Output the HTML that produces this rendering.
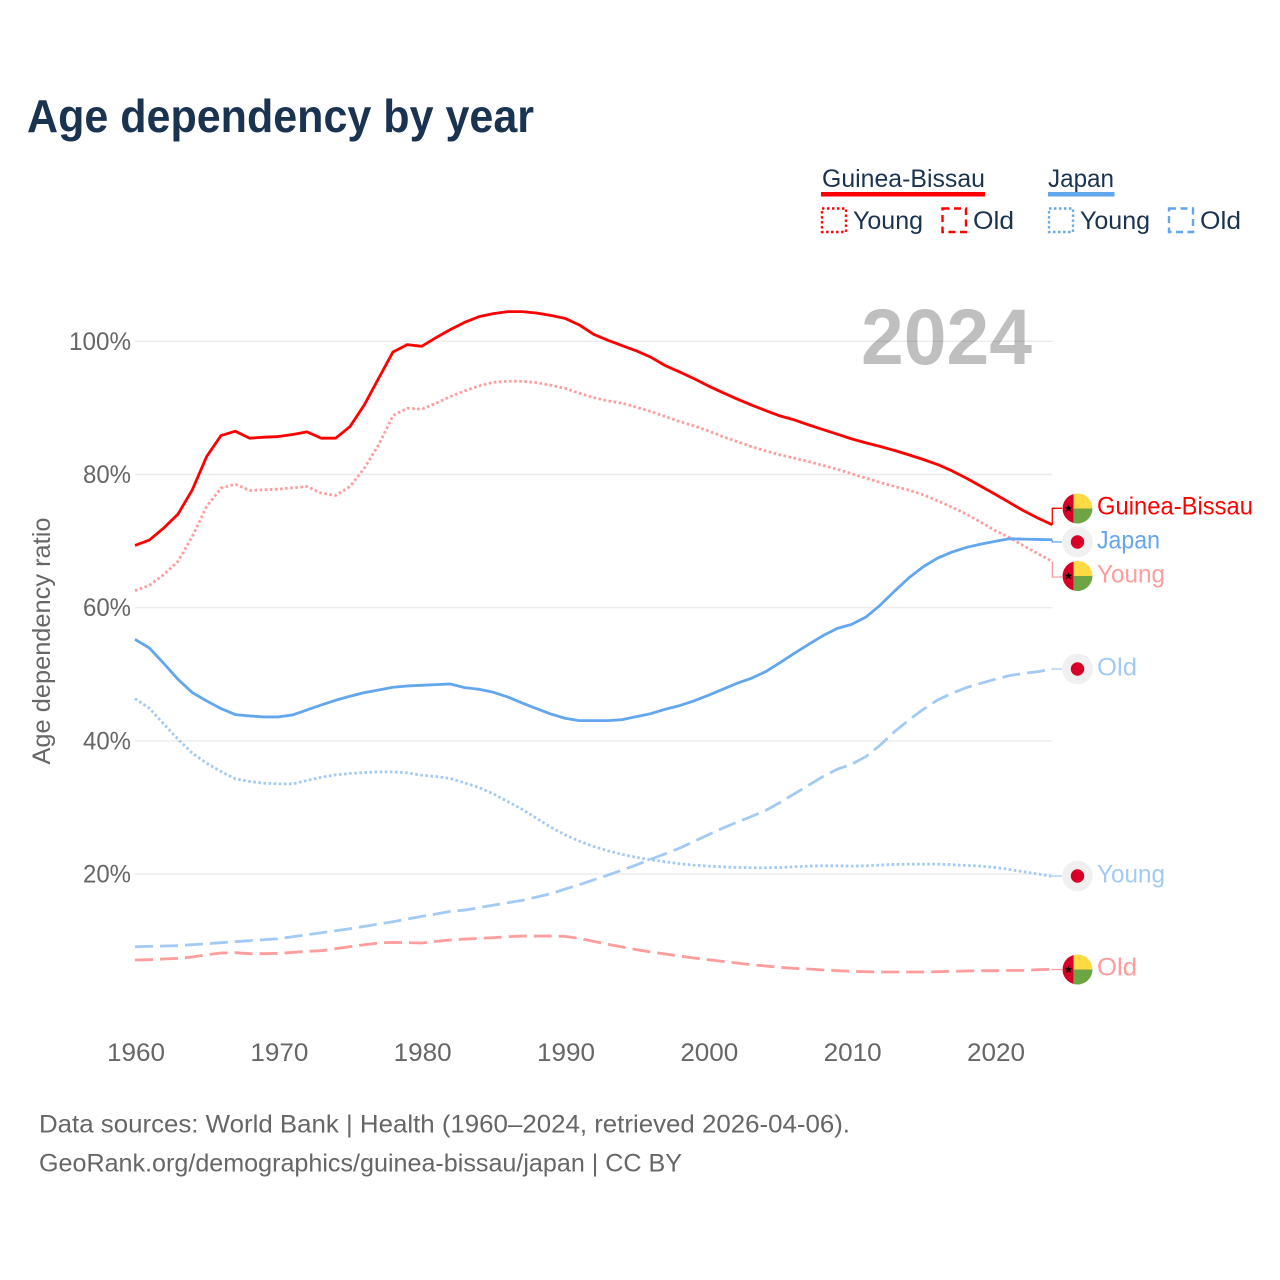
<!DOCTYPE html>
<html lang="en">
<head>
<meta charset="utf-8">
<title>Age dependency by year</title>
<style>
html,body{margin:0;padding:0;background:#fff;}
svg{display:block;font-family:"Liberation Sans",sans-serif;}
.leg{font-size:25px;fill:#1a3350;}
.lab{font-size:25px;}
.src{font-size:25px;fill:#666;}
</style>
</head>
<body>
<svg id="chart" xmlns="http://www.w3.org/2000/svg" width="1280" height="1280" viewBox="0 0 1280 1280">
  <rect x="0" y="0" width="1280" height="1280" fill="#fff"/>
  <text x="27" y="132" font-size="46" font-weight="700" fill="#1a3350" textLength="507" lengthAdjust="spacingAndGlyphs">Age dependency by year</text>

  <g>
    <text class="leg" x="822" y="187" textLength="163" lengthAdjust="spacingAndGlyphs">Guinea-Bissau</text>
    <rect x="821" y="192" width="164" height="4.5" fill="#ff0000"/>
    <text class="leg" x="1048" y="187" textLength="66" lengthAdjust="spacingAndGlyphs">Japan</text>
    <rect x="1048" y="192" width="66.5" height="4.5" fill="#62a6ee"/>

    <rect x="822" y="208.500" width="24" height="23.500" fill="none" stroke="#ff0000" stroke-width="2.4" stroke-dasharray="2.4 2.6"/>
    <text class="leg" x="853" y="229" textLength="70" lengthAdjust="spacingAndGlyphs">Young</text>
    <rect x="942.500" y="208.500" width="23.500" height="23.500" fill="none" stroke="#ff0000" stroke-width="2.4" stroke-dasharray="7 4.500"/>
    <text class="leg" x="973" y="229" textLength="41" lengthAdjust="spacingAndGlyphs">Old</text>

    <rect x="1049" y="208.500" width="24" height="23.500" fill="none" stroke="#62a6ee" stroke-width="2.4" stroke-dasharray="2.4 2.6"/>
    <text class="leg" x="1080" y="229" textLength="70" lengthAdjust="spacingAndGlyphs">Young</text>
    <rect x="1169" y="208.500" width="24" height="23.500" fill="none" stroke="#62a6ee" stroke-width="2.4" stroke-dasharray="7 4.500"/>
    <text class="leg" x="1200" y="229" textLength="41" lengthAdjust="spacingAndGlyphs">Old</text>
  </g>

  <g id="grid"></g>
  <g id="yticks"></g>
  <g id="xticks"></g>
  <text transform="translate(50 641) rotate(-90)" text-anchor="middle" font-size="25" fill="#666" textLength="247" lengthAdjust="spacingAndGlyphs">Age dependency ratio</text>

  <g id="series"></g>

  <text x="861" y="364" font-size="79" font-weight="700" fill="#000" fill-opacity="0.25" textLength="171" lengthAdjust="spacingAndGlyphs">2024</text>

  <g transform="translate(1077.5 508.5)">
    <path d="M-3.8 -14.5A15 15 0 0 0 -3.8 14.5Z" fill="#d80027"/>
    <path d="M-3.8 -14.5A15 15 0 0 1 15 0H-3.8Z" fill="#ffda44"/>
    <path d="M-3.8 14.5A15 15 0 0 0 15 0H-3.8Z" fill="#6da544"/>
    <polygon points="-9,-3.800 -7.900,-1.200 -5.200,-1.200 -7.300,0.500 -6.600,3.200 -9,1.700 -11.400,3.200 -10.700,0.500 -12.800,-1.200 -10.100,-1.200" fill="#000"/>
  </g>
  <g transform="translate(1077.5 542)">
    <circle r="15.300" fill="#f0f0f0"/><circle r="6.700" fill="#d80027"/>
  </g>
  <g transform="translate(1077.5 576)">
    <path d="M-3.8 -14.5A15 15 0 0 0 -3.8 14.5Z" fill="#d80027"/>
    <path d="M-3.8 -14.5A15 15 0 0 1 15 0H-3.8Z" fill="#ffda44"/>
    <path d="M-3.8 14.5A15 15 0 0 0 15 0H-3.8Z" fill="#6da544"/>
    <polygon points="-9,-3.800 -7.900,-1.200 -5.200,-1.200 -7.300,0.500 -6.600,3.200 -9,1.700 -11.400,3.200 -10.700,0.500 -12.800,-1.200 -10.100,-1.200" fill="#000"/>
  </g>
  <g transform="translate(1077.5 669)">
    <circle r="15.300" fill="#f0f0f0"/><circle r="6.700" fill="#d80027"/>
  </g>
  <g transform="translate(1077.5 876)">
    <circle r="15.300" fill="#f0f0f0"/><circle r="6.700" fill="#d80027"/>
  </g>
  <g transform="translate(1077.5 969.5)">
    <path d="M-3.8 -14.5A15 15 0 0 0 -3.8 14.5Z" fill="#d80027"/>
    <path d="M-3.8 -14.5A15 15 0 0 1 15 0H-3.8Z" fill="#ffda44"/>
    <path d="M-3.8 14.5A15 15 0 0 0 15 0H-3.8Z" fill="#6da544"/>
    <polygon points="-9,-3.800 -7.900,-1.200 -5.200,-1.200 -7.300,0.500 -6.600,3.200 -9,1.700 -11.400,3.200 -10.700,0.500 -12.800,-1.200 -10.100,-1.200" fill="#000"/>
  </g>

  <text class="lab" x="1097" y="514.700" fill="#ff0000" textLength="156" lengthAdjust="spacingAndGlyphs">Guinea-Bissau</text>
  <text class="lab" x="1097" y="548.500" fill="#62a6ee" textLength="63" lengthAdjust="spacingAndGlyphs">Japan</text>
  <text class="lab" x="1097" y="582.500" fill="#ff9c9c" textLength="68" lengthAdjust="spacingAndGlyphs">Young</text>
  <text class="lab" x="1097" y="675.500" fill="#a3caf5" textLength="40" lengthAdjust="spacingAndGlyphs">Old</text>
  <text class="lab" x="1097" y="882.500" fill="#a3caf5" textLength="68" lengthAdjust="spacingAndGlyphs">Young</text>
  <text class="lab" x="1097" y="975.500" fill="#ff9c9c" textLength="40" lengthAdjust="spacingAndGlyphs">Old</text>

  <text class="src" x="39" y="1132.500" textLength="811" lengthAdjust="spacingAndGlyphs">Data sources: World Bank | Health (1960–2024, retrieved 2026-04-06).</text>
  <text class="src" x="39" y="1171.500" textLength="643" lengthAdjust="spacingAndGlyphs">GeoRank.org/demographics/guinea-bissau/japan | CC BY</text>
</svg>

<script>
const startYear = 1960;
const xTickYears = [1960, 1970, 1980, 1990, 2000, 2010, 2020];
const yTickValues = [20, 40, 60, 80, 100];

const guineaBissauTotal = [69.35,70.15,71.95,74.05,77.7,82.7,85.85,86.5,85.45,85.6,85.7,86.0,86.4,85.45,85.45,87.2,90.45,94.45,98.4,99.5,99.25,100.55,101.75,102.85,103.7,104.15,104.45,104.45,104.25,103.9,103.45,102.45,101.05,100.15,99.35,98.55,97.6,96.35,95.4,94.4,93.3,92.3,91.35,90.45,89.6,88.8,88.2,87.45,86.75,86.05,85.35,84.75,84.2,83.6,82.95,82.25,81.5,80.55,79.45,78.25,77.05,75.8,74.55,73.45,72.45];
const guineaBissauYoung = [62.55,63.35,64.95,66.95,70.7,75.2,77.95,78.55,77.6,77.7,77.8,78,78.2,77.2,76.85,78.2,80.95,84.45,88.85,89.95,89.8,90.7,91.7,92.55,93.3,93.85,94,94,93.8,93.4,92.95,92.2,91.55,91.05,90.7,90.1,89.45,88.7,87.95,87.3,86.55,85.7,84.95,84.2,83.55,82.95,82.45,81.95,81.35,80.8,80.1,79.45,78.8,78.2,77.65,76.95,76.05,75.1,74.05,72.85,71.6,70.55,69.3,68.1,66.95];
const guineaBissauOld = [7.1,7.15,7.25,7.35,7.55,7.9,8.15,8.2,8.05,8.05,8.1,8.25,8.4,8.5,8.8,9.1,9.4,9.65,9.75,9.7,9.65,9.9,10.1,10.25,10.35,10.45,10.6,10.7,10.7,10.7,10.65,10.35,9.9,9.45,9.05,8.65,8.3,8,7.7,7.4,7.15,6.9,6.65,6.4,6.2,6,5.85,5.75,5.6,5.5,5.4,5.35,5.3,5.3,5.3,5.3,5.35,5.4,5.45,5.5,5.5,5.55,5.55,5.65,5.7];
const japanTotal = [55.25,53.95,51.65,49.25,47.25,46,44.85,43.95,43.75,43.6,43.6,43.9,44.65,45.4,46.1,46.7,47.25,47.65,48.05,48.25,48.35,48.45,48.55,48,47.75,47.3,46.6,45.7,44.85,44.05,43.4,43.05,43.05,43.05,43.2,43.65,44.1,44.75,45.3,46,46.85,47.75,48.65,49.4,50.4,51.75,53.15,54.5,55.8,56.9,57.5,58.6,60.4,62.5,64.5,66.15,67.45,68.35,69.05,69.55,69.95,70.35,70.3,70.25,70.2];
const japanYoung = [46.35,44.9,42.55,40.25,38.15,36.65,35.4,34.3,33.9,33.65,33.55,33.55,34.05,34.55,34.9,35.1,35.25,35.35,35.35,35.2,34.85,34.65,34.35,33.7,33,32.05,30.9,29.75,28.4,27.05,25.9,24.95,24.15,23.5,22.95,22.5,22.15,21.85,21.55,21.35,21.2,21.1,21,20.95,20.95,21,21.1,21.2,21.25,21.25,21.2,21.25,21.35,21.45,21.5,21.5,21.5,21.4,21.3,21.2,21,20.7,20.35,20,19.65];
const japanOld = [9.1,9.15,9.2,9.25,9.4,9.55,9.7,9.85,10,10.15,10.3,10.6,10.9,11.2,11.5,11.8,12.15,12.5,12.85,13.25,13.65,14,14.4,14.6,14.95,15.35,15.7,16.05,16.55,17.05,17.75,18.4,19.15,19.85,20.6,21.4,22.25,23.05,23.9,24.9,25.9,26.9,27.8,28.65,29.55,30.75,32.05,33.35,34.65,35.75,36.5,37.65,39.4,41.4,43.15,44.75,46.15,47.15,48,48.65,49.25,49.8,50.15,50.4,50.8];

const NS = 'http://www.w3.org/2000/svg';
const PLOT_LEFT = 135;
const PLOT_RIGHT = 1052.3;
const LAST_YEAR = 2024;
const GRID_Y_100 = 341.3;
const PX_PER_PCT = 6.66;

function xScale(year) {
  return PLOT_LEFT + (year - startYear) * (PLOT_RIGHT - PLOT_LEFT) / (LAST_YEAR - startYear);
}
function yScale(value) {
  return GRID_Y_100 + (100 - value) * PX_PER_PCT;
}
function make(tag, parent) {
  const el = document.createElementNS(NS, tag);
  parent.appendChild(el);
  return el;
}

const gridGroup = document.getElementById('grid');
const yTickGroup = document.getElementById('yticks');
const xTickGroup = document.getElementById('xticks');
const seriesGroup = document.getElementById('series');

yTickValues.forEach(function (v) {
  const line = make('line', gridGroup);
  
  
  line.setAttribute('x1', PLOT_LEFT);
  line.setAttribute('x2', PLOT_RIGHT);
  line.setAttribute('y1', yScale(v));
  line.setAttribute('y2', yScale(v));
  line.setAttribute('stroke', '#ebebeb');
  line.setAttribute('stroke-width', '1.4');

  const label = make('text', yTickGroup);
  
  
  label.setAttribute('x', 131);
  label.setAttribute('y', yScale(v) + 8.5);
  label.setAttribute('text-anchor', 'end');
  label.setAttribute('font-size', '25');
  label.setAttribute('fill', '#666');
  label.setAttribute('textLength', v === 100 ? 62 : 48);
  label.setAttribute('lengthAdjust', 'spacingAndGlyphs');
  label.textContent = v + '%';
});

xTickYears.forEach(function (year) {
  const label = make('text', xTickGroup);
  
  
  label.setAttribute('x', xScale(year) + 1);
  label.setAttribute('y', 1061);
  label.setAttribute('text-anchor', 'middle');
  label.setAttribute('font-size', '25');
  label.setAttribute('fill', '#666');
  label.setAttribute('textLength', 58);
  label.setAttribute('lengthAdjust', 'spacingAndGlyphs');
  label.textContent = String(year);
});

function pathFor(values) {
  return values.map(function (v, i) {
    return (i === 0 ? 'M' : 'L') + xScale(startYear + i).toFixed(2) + ' ' + yScale(v).toFixed(2);
  }).join('');
}

function drawSeries(values, name, color, dash, labelY) {
  const connector = make('path', seriesGroup);
  
  
  const endX = xScale(LAST_YEAR);
  connector.setAttribute('d', 'M' + endX + ' ' + yScale(values[values.length - 1]) + 'L' + endX + ' ' + labelY + 'L1062 ' + labelY);
  connector.setAttribute('fill', 'none');
  connector.setAttribute('stroke', color);
  connector.setAttribute('stroke-width', '1.3');

  const line = make('path', seriesGroup);
  
  
  line.setAttribute('d', pathFor(values));
  line.setAttribute('fill', 'none');
  line.setAttribute('stroke', color);
  line.setAttribute('stroke-width', '2.8');
  line.setAttribute('stroke-linejoin', 'round');
  if (dash) {
    line.setAttribute('stroke-dasharray', dash);
  }
}

drawSeries(guineaBissauOld, 'guinea-bissau-old', '#ff9c9c', '18 7', 969.5);
drawSeries(japanOld, 'japan-old', '#a3caf5', '18 7', 669);
drawSeries(japanYoung, 'japan-young', '#a3caf5', '2.6 2.5', 876);
drawSeries(guineaBissauYoung, 'guinea-bissau-young', '#ff9c9c', '2.6 2.5', 577);
drawSeries(japanTotal, 'japan-total', '#62a6ee', '', 542);
drawSeries(guineaBissauTotal, 'guinea-bissau-total', '#ff0000', '', 508.3);
</script>
</body>
</html>
